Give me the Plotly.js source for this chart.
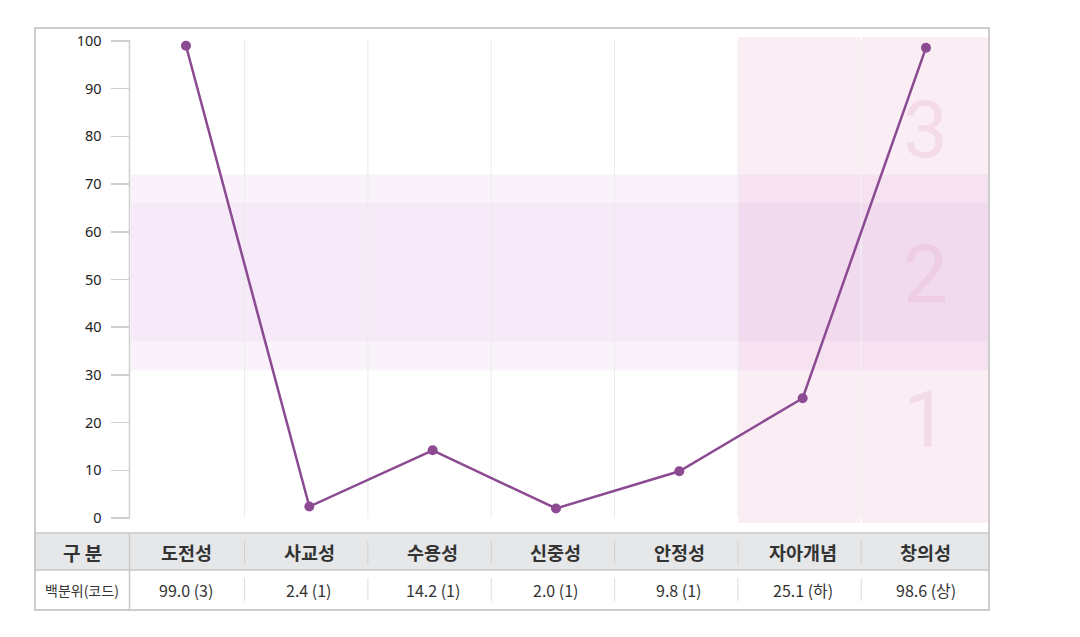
<!DOCTYPE html>
<html><head><meta charset="utf-8">
<script src="https://cdn.plot.ly/plotly-3.0.1.min.js"></script>
<style>html,body{margin:0;padding:0;background:#fff}#chart{width:1080px;height:637px}</style>
</head><body><div id="chart"></div>
<script>
// ---- data ----
const categories = ['도전성','사교성','수용성','신중성','안정성','자아개념','창의성'];
const percentiles = [99.0, 2.4, 14.2, 2.0, 9.8, 25.1, 98.6];
const codes = ['3','1','1','1','1','하','상'];
const yTicks = [0,10,20,30,40,50,60,70,80,90,100];
const outerBand = [31, 72];
const innerBand = [37, 66];
const highlightCats = ['자아개념','창의성'];
const zoneLabels = ['1','2','3'];
const zoneLabelY = [20.5, 50.9, 81.3];
const rowHeader = '구 분';
const rowLabel = '백분위(코드)';

// ---- geometry (pixels -> data) ----
const L=35, R=989, T=28, B=610;
const x0px=186, dxpx=123.33, y0px=518, ppu=4.77;
const X = px => (px - x0px)/dxpx;
const Y = px => (y0px - px)/ppu;
const KR = '"Noto Sans CJK KR", "Noto Sans", sans-serif';

const shapes = [];
// horizontal bands
shapes.push({type:'rect', layer:'below', xref:'x', yref:'y', x0:X(131), x1:X(988), y0:outerBand[0], y1:outerBand[1], fillcolor:'rgba(205,130,215,0.10)', line:{width:0}});
shapes.push({type:'rect', layer:'below', xref:'x', yref:'y', x0:X(131), x1:X(988), y0:innerBand[0], y1:innerBand[1], fillcolor:'rgba(205,130,215,0.08)', line:{width:0}});
// highlighted columns
highlightCats.forEach(c => {
  const i = categories.indexOf(c);
  const x0 = i - 0.525 + 0.006;
  const x1 = (i === categories.length-1) ? X(988) : i + 0.475 - 0.006;
  shapes.push({type:'rect', layer:'below', xref:'x', yref:'y', x0:x0, x1:x1, y0:Y(523), y1:Y(37), fillcolor:'rgba(225,150,190,0.17)', line:{width:0}});
});
// vertical grid lines
for (let i=0;i<categories.length-1;i++){
  shapes.push({type:'line', layer:'below', xref:'x', yref:'y', x0:i+0.475, x1:i+0.475, y0:Y(518), y1:Y(40), line:{color:'#ebebeb', width:1}});
}
// y axis line
shapes.push({type:'line', xref:'x', yref:'y', x0:X(129.5), x1:X(129.5), y0:Y(518), y1:Y(40), line:{color:'#cfcfcf', width:1.5}});
// table
shapes.push({type:'rect', layer:'below', xref:'paper', yref:'y', x0:0, x1:1, y0:Y(570), y1:Y(533), fillcolor:'#e6e7e9', line:{width:0}});
shapes.push({type:'line', xref:'paper', yref:'y', x0:0, x1:1, y0:Y(533), y1:Y(533), line:{color:'#c8c8c8', width:1.5}});
shapes.push({type:'line', xref:'paper', yref:'y', x0:0, x1:1, y0:Y(570), y1:Y(570), line:{color:'#c8c8c8', width:1.5}});
shapes.push({type:'line', xref:'x', yref:'y', x0:X(129.5), x1:X(129.5), y0:Y(533), y1:Y(610), line:{color:'#c8c8c8', width:1.5}});
for (let i=0;i<categories.length-1;i++){
  shapes.push({type:'line', xref:'x', yref:'y', x0:i+0.475, x1:i+0.475, y0:Y(541), y1:Y(564), line:{color:'#d0d0d0', width:1}});
  shapes.push({type:'line', xref:'x', yref:'y', x0:i+0.475, x1:i+0.475, y0:Y(578), y1:Y(601), line:{color:'#dcdcdc', width:1}});
}
// outer border
shapes.push({type:'rect', xref:'paper', yref:'paper', x0:0, x1:1, y0:0, y1:1, line:{color:'#bdbdbd', width:1.5}});

const annotations = [];
zoneLabels.forEach((t,k) => annotations.push({x:categories.length-1, y:zoneLabelY[k], xref:'x', yref:'y', text:t, showarrow:false, font:{family:'Roboto, sans-serif', size:80, color:'rgba(220,150,195,0.20)'}}));
annotations.push({x:X(82), y:Y(552), xref:'x', yref:'y', text:'<b>'+rowHeader+'</b>', showarrow:false, font:{family:KR, size:19, color:'#333'}});
annotations.push({x:X(82), y:Y(590), xref:'x', yref:'y', text:rowLabel, showarrow:false, font:{family:KR, size:14, color:'#333'}});
categories.forEach((c,i) => {
  annotations.push({x:c, y:Y(552), xref:'x', yref:'y', text:'<b>'+c+'</b>', showarrow:false, font:{family:KR, size:18.5, color:'#333'}});
  annotations.push({x:c, y:Y(590), xref:'x', yref:'y', text:percentiles[i].toFixed(1)+' ('+codes[i]+')', showarrow:false, font:{family:KR, size:16, color:'#333'}});
});

const trace = {
  type:'scatter', mode:'lines+markers', x:categories, y:percentiles,
  line:{color:'#8b4a92', width:2.5}, marker:{color:'#8b4a92', size:10},
  hoverinfo:'x+y', showlegend:false
};

const layout = {
  width:1080, height:637,
  margin:{l:L, r:1080-R, t:T, b:637-B, pad:0},
  paper_bgcolor:'#fff', plot_bgcolor:'rgba(0,0,0,0)',
  showlegend:false,
  xaxis:{type:'category', categoryorder:'array', categoryarray:categories, range:[X(L), X(R)],
         showticklabels:false, showgrid:false, zeroline:false, showline:false, ticks:'', fixedrange:true},
  yaxis:{range:[Y(B), Y(T)], anchor:'free', position:(129.5-L)/(R-L), side:'left',
         tickmode:'array', tickvals:yTicks, ticks:'outside', ticklen:19, tickcolor:'#cfcfcf', tickwidth:1.5,
         ticklabelstandoff:6,
         showgrid:false, zeroline:false, showline:false,
         tickfont:{family:'"Noto Sans", sans-serif', size:14.5, color:'#222'}, fixedrange:true},
  shapes:shapes, annotations:annotations
};

Plotly.newPlot('chart', [trace], layout, {displayModeBar:false, staticPlot:true});
</script>
</body></html>
